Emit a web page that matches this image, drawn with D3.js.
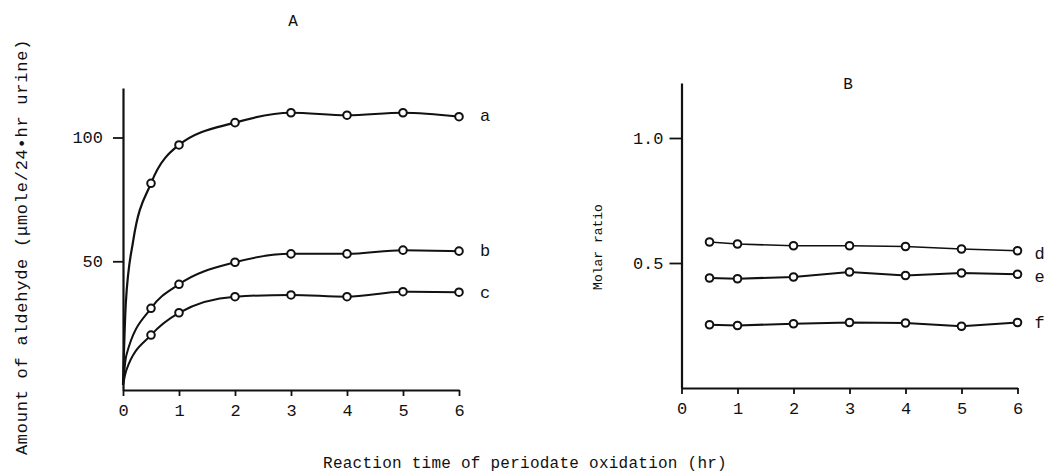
<html>
<head>
  <title>Periodate oxidation</title>
  <script src="https://d3js.org/d3.v7.min.js"></script>
  <style>
    body { margin: 0; background: #fff; }
    text { font-family: 'Liberation Mono', 'DejaVu Sans Mono', monospace; fill: #111; }
  </style>
</head>
<body>
<div id="chart"></div>
<script>

// sampling times (hr)
var hours = [0.5, 1, 2, 3, 4, 5, 6];
var xTicks = [0, 1, 2, 3, 4, 5, 6];

// panel A: amount of aldehyde (umole/24 hr urine)
var seriesA_a = [81.5, 97, 106, 110, 109, 110, 108.4];
var seriesA_b = [31, 40.7, 49.6, 53, 53, 54.5, 54.1];
var seriesA_c = [20.2, 29.2, 35.7, 36.4, 35.7, 37.7, 37.5];
var startA_a = [[0, 0], [0.05, 33], [0.18, 58]];
var startA_b = [[0, 0], [0.06, 12]];
var startA_c = [[0, 0], [0.06, 6]];
var labelsA = ['a', 'b', 'c'];
var yTicksA = [50, 100];

// panel B: molar ratio
var seriesB_d = [0.584, 0.576, 0.569, 0.569, 0.566, 0.556, 0.549];
var seriesB_e = [0.44, 0.437, 0.444, 0.464, 0.45, 0.46, 0.455];
var seriesB_f = [0.253, 0.25, 0.257, 0.262, 0.26, 0.247, 0.262];
var labelsB = ['d', 'e', 'f'];
var yTicksB = [0.5, 1.0];

var svg = d3.select('#chart').append('svg')
  .attr('width', 1051)
  .attr('height', 473);

function points(vals) {
  return hours.map(function(h, i) { return [h, vals[i]]; });
}

function drawPanel(opt) {
  var x = d3.scaleLinear().domain([0, 6]).range(opt.xRange);
  var y = d3.scaleLinear().domain(opt.yDomain).range(opt.yRange);

  var g = svg.append('g');

  // axes
  var xAxis = d3.axisBottom(x).tickValues(xTicks).tickFormat(d3.format('d'))
    .tickSizeInner(6).tickSizeOuter(0).tickPadding(8);
  var gx = g.append('g').attr('transform', 'translate(0,' + opt.yRange[0] + ')').call(xAxis);

  var yAxis = d3.axisLeft(y).tickValues(opt.yTicks).tickFormat(opt.yFormat)
    .tickSizeInner(opt.yTickLen).tickSizeOuter(0).tickPadding(opt.yPad);
  var gy = g.append('g').attr('transform', 'translate(' + opt.xRange[0] + ',0)').call(yAxis);

  [gx, gy].forEach(function(a) {
    a.select('.domain').attr('stroke', '#111').attr('stroke-width', 2.2);
    a.selectAll('.tick line').attr('stroke', '#111').attr('stroke-width', 1.8);
    a.selectAll('.tick text').style('font-size', '17px')
      .style('font-family', "'Liberation Mono', monospace").attr('fill', '#111');
  });

  var line = d3.line()
    .x(function(d) { return x(d[0]); })
    .y(function(d) { return y(d[1]); })
    .curve(opt.curve);

  opt.series.forEach(function(s, i) {
    var pts = points(s);
    var linePts = opt.starts ? opt.starts[i].concat(pts) : pts;
    g.append('path')
      .datum(linePts)
      .attr('d', line)
      .attr('fill', 'none')
      .attr('stroke', '#111')
      .attr('stroke-width', opt.lineWidth[i]);

    g.selectAll('.m' + i)
      .data(pts)
      .enter().append('circle')
      .attr('cx', function(d) { return x(d[0]); })
      .attr('cy', function(d) { return y(d[1]); })
      .attr('r', 3.8)
      .attr('fill', '#fff')
      .attr('stroke', '#111')
      .attr('stroke-width', 2);

    // series letter at the right end
    g.append('text')
      .attr('x', x(6) + opt.labelGap)
      .attr('y', y(s[s.length - 1]) + opt.labelDy[i])
      .attr('dy', '0.35em')
      .style('font-size', '17px')
      .text(opt.labels[i]);
  });

  g.append('text')
    .attr('x', opt.title[1])
    .attr('y', opt.title[2])
    .attr('text-anchor', 'middle')
    .style('font-size', '16px')
    .text(opt.title[0]);

  return g;
}

drawPanel({
  xRange: [123, 459],
  yDomain: [-2, 120],
  yRange: [390, 88],
  yTicks: yTicksA,
  yFormat: d3.format('d'),
  yTickLen: 10,
  yPad: 10,
  series: [seriesA_a, seriesA_b, seriesA_c],
  starts: [startA_a, startA_b, startA_c],
  labels: labelsA,
  labelDy: [-2, -1, 0],
  labelGap: 21,
  lineWidth: [2.2, 2, 2],
  curve: d3.curveMonotoneX,
  title: ['A', 293, 26]
});

drawPanel({
  xRange: [681.5, 1017.5],
  yDomain: [0, 1.22],
  yRange: [388, 83],
  yTicks: yTicksB,
  yFormat: d3.format('.1f'),
  yTickLen: 12,
  yPad: 6,
  series: [seriesB_d, seriesB_e, seriesB_f],
  labels: labelsB,
  labelDy: [2, 2, 0],
  labelGap: 17,
  lineWidth: [1.6, 2.2, 2.2],
  curve: d3.curveLinear,
  title: ['B', 848, 89]
});

// axis titles
svg.append('text')
  .attr('transform', 'translate(27,247) rotate(-90)')
  .attr('text-anchor', 'middle')
  .style('font-size', '17px')
  .style('letter-spacing', '0.75px')
  .text('Amount of aldehyde (\u03bcmole/24\u2022hr urine)');

svg.append('text')
  .attr('transform', 'translate(602,247) rotate(-90)')
  .attr('text-anchor', 'middle')
  .style('font-size', '13px')
  .text('Molar ratio');

svg.append('text')
  .attr('x', 525)
  .attr('y', 468)
  .attr('text-anchor', 'middle')
  .style('font-size', '16px')
  .style('letter-spacing', '0.25px')
  .text('Reaction time of periodate oxidation (hr)');

</script>
</body>
</html>
